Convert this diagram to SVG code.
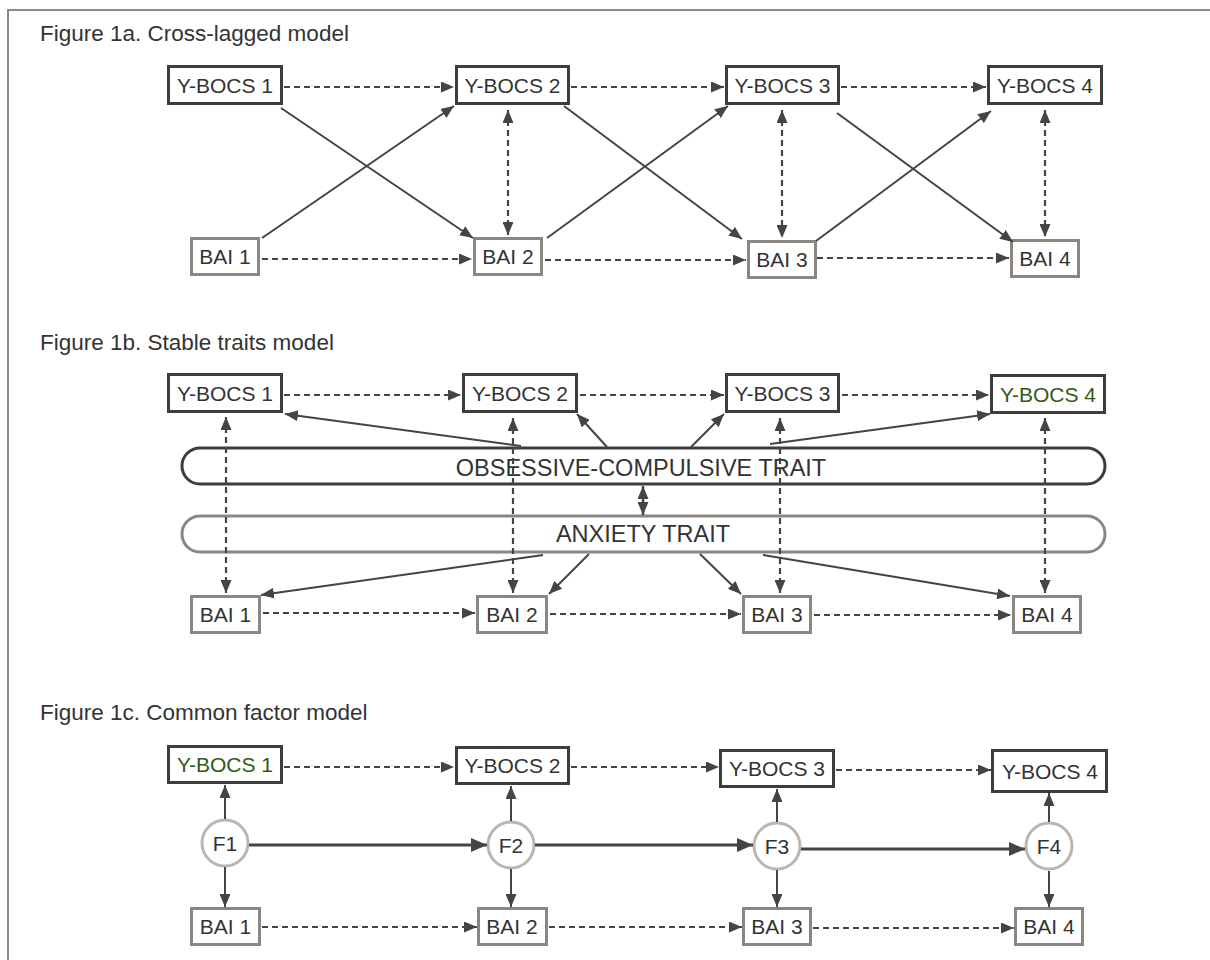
<svg xmlns="http://www.w3.org/2000/svg" width="1210" height="960" viewBox="0 0 1210 960">
<style>
.bg{fill:#ffffff}
.frame{fill:none;stroke:#8a8a8a;stroke-width:2}
.title{font-family:"Liberation Sans",Arial,sans-serif;font-size:22.5px;fill:#333333}
.lbl{font-family:"Liberation Sans",Arial,sans-serif;font-size:21px;fill:#333333;text-anchor:middle}
.green{fill:#2f5a17}
.trait{font-family:"Liberation Sans",Arial,sans-serif;font-size:23.5px;fill:#333333;text-anchor:middle}
.yb{fill:#ffffff;stroke:#3d3d3d;stroke-width:3}
.bai{fill:#ffffff;stroke:#8c8680;stroke-width:3}
.fc{fill:#ffffff;stroke:#bdb6ae;stroke-width:3}
.oc{fill:none;stroke:#3d3d3d;stroke-width:3}
.anx{fill:none;stroke:#8c8680;stroke-width:3}
.solid{fill:none;stroke:#444444;stroke-width:2;marker-end:url(#ah)}
.thick{fill:none;stroke:#444444;stroke-width:3;marker-end:url(#ahb)}
.dash{fill:none;stroke:#444444;stroke-width:2.2;stroke-dasharray:6 4;marker-end:url(#ah)}
.dash2{fill:none;stroke:#444444;stroke-width:2.2;stroke-dasharray:6 4;marker-start:url(#ah);marker-end:url(#ah)}
.dbl{fill:none;stroke:#444444;stroke-width:2.5;marker-start:url(#ah);marker-end:url(#ah)}
</style>
<defs>
<marker id="ah" markerUnits="userSpaceOnUse" viewBox="0 0 13 11" refX="13" refY="5.5" markerWidth="13" markerHeight="11" orient="auto-start-reverse">
<path d="M0,0 L13,5.5 L0,11 z" fill="#444444"/>
</marker>
<marker id="ahb" markerUnits="userSpaceOnUse" viewBox="0 0 16 14" refX="16" refY="7" markerWidth="16" markerHeight="14" orient="auto">
<path d="M0,0 L16,7 L0,14 z" fill="#444444"/>
</marker>
</defs>
<rect class="bg" x="0" y="0" width="1210" height="960"/>
<path class="frame" d="M8,960 V10 H1210"/>

<text class="title" x="40" y="41">Figure 1a. Cross-lagged model</text>
<text class="title" x="40" y="350">Figure 1b. Stable traits model</text>
<text class="title" x="40" y="720">Figure 1c. Common factor model</text>

<!-- Figure 1a nodes -->
<g id="a-ybocs1"><rect class="yb" x="168.5" y="66.5" width="113" height="37"/><text class="lbl" x="225" y="93">Y-BOCS 1</text></g>
<g id="a-ybocs2"><rect class="yb" x="456.5" y="66.5" width="112" height="37"/><text class="lbl" x="512.5" y="93">Y-BOCS 2</text></g>
<g id="a-ybocs3"><rect class="yb" x="726.5" y="66.5" width="112" height="37"/><text class="lbl" x="782.5" y="93">Y-BOCS 3</text></g>
<g id="a-ybocs4"><rect class="yb" x="988.5" y="66.5" width="113" height="37"/><text class="lbl" x="1045" y="93">Y-BOCS 4</text></g>
<g id="a-bai1"><rect class="bai" x="191.5" y="238.5" width="67" height="36"/><text class="lbl" x="225" y="264">BAI 1</text></g>
<g id="a-bai2"><rect class="bai" x="474.5" y="238.5" width="67" height="36"/><text class="lbl" x="508" y="264">BAI 2</text></g>
<g id="a-bai3"><rect class="bai" x="748.5" y="241.5" width="67" height="36"/><text class="lbl" x="782" y="267">BAI 3</text></g>
<g id="a-bai4"><rect class="bai" x="1011.5" y="240.5" width="67" height="36"/><text class="lbl" x="1045" y="266">BAI 4</text></g>

<!-- Figure 1b nodes -->
<g id="b-ybocs1"><rect class="yb" x="168.5" y="374.5" width="113" height="37"/><text class="lbl" x="225" y="401">Y-BOCS 1</text></g>
<g id="b-ybocs2"><rect class="yb" x="463.5" y="374.5" width="113" height="37"/><text class="lbl" x="520" y="401">Y-BOCS 2</text></g>
<g id="b-ybocs3"><rect class="yb" x="726.5" y="374.5" width="112" height="37"/><text class="lbl" x="782.5" y="401">Y-BOCS 3</text></g>
<g id="b-ybocs4"><rect class="yb" x="991.5" y="375.5" width="113" height="37"/><text class="lbl green" x="1048" y="402">Y-BOCS 4</text></g>
<g id="b-octrait"><rect class="oc" x="182" y="448" width="923" height="36" rx="18" ry="18"/><text class="trait" x="641" y="476">OBSESSIVE-COMPULSIVE TRAIT</text></g>
<g id="b-anxtrait"><rect class="anx" x="182" y="516" width="923" height="36" rx="18" ry="18"/><text class="trait" x="643" y="542">ANXIETY TRAIT</text></g>
<g id="b-bai1"><rect class="bai" x="191.5" y="596.5" width="68" height="36"/><text class="lbl" x="225.5" y="622">BAI 1</text></g>
<g id="b-bai2"><rect class="bai" x="477.5" y="596.5" width="69" height="36"/><text class="lbl" x="512" y="622">BAI 2</text></g>
<g id="b-bai3"><rect class="bai" x="743.5" y="596.5" width="67" height="36"/><text class="lbl" x="777" y="622">BAI 3</text></g>
<g id="b-bai4"><rect class="bai" x="1013.5" y="596.5" width="67" height="36"/><text class="lbl" x="1047" y="622">BAI 4</text></g>

<!-- Figure 1c nodes -->
<g id="c-ybocs1"><rect class="yb" x="168.5" y="746.5" width="113" height="36"/><text class="lbl green" x="225" y="772">Y-BOCS 1</text></g>
<g id="c-ybocs2"><rect class="yb" x="456.5" y="747.5" width="112" height="36"/><text class="lbl" x="512.5" y="773">Y-BOCS 2</text></g>
<g id="c-ybocs3"><rect class="yb" x="720.5" y="750.5" width="113" height="36"/><text class="lbl" x="777" y="776">Y-BOCS 3</text></g>
<g id="c-ybocs4"><rect class="yb" x="992.5" y="750.5" width="114" height="41"/><text class="lbl" x="1050" y="779">Y-BOCS 4</text></g>
<g id="c-f1"><circle class="fc" cx="225" cy="843" r="23"/><text class="lbl" x="225" y="850.5">F1</text></g>
<g id="c-f2"><circle class="fc" cx="511" cy="845" r="23"/><text class="lbl" x="511" y="852.5">F2</text></g>
<g id="c-f3"><circle class="fc" cx="777" cy="846" r="23"/><text class="lbl" x="777" y="853.5">F3</text></g>
<g id="c-f4"><circle class="fc" cx="1049" cy="846" r="23"/><text class="lbl" x="1049" y="853.5">F4</text></g>
<g id="c-bai1"><rect class="bai" x="191.5" y="908.5" width="68" height="36"/><text class="lbl" x="225.5" y="934">BAI 1</text></g>
<g id="c-bai2"><rect class="bai" x="478.5" y="908.5" width="68" height="36"/><text class="lbl" x="512" y="934">BAI 2</text></g>
<g id="c-bai3"><rect class="bai" x="743.5" y="908.5" width="67" height="36"/><text class="lbl" x="777" y="934">BAI 3</text></g>
<g id="c-bai4"><rect class="bai" x="1015.5" y="908.5" width="67" height="36"/><text class="lbl" x="1049" y="934">BAI 4</text></g>

<g id="connectors">
<!-- 1a -->
<path class="dash" d="M284,87 L454,87"/>
<path class="dash" d="M571,87 L724,87"/>
<path class="dash" d="M841,87 L986,87"/>
<path class="dash" d="M262,259 L472,259"/>
<path class="dash" d="M545,260 L746,260"/>
<path class="dash" d="M817,258 L1009,258"/>
<path class="dash2" d="M508,110 L508,235"/>
<path class="dash2" d="M782,110 L782,238"/>
<path class="dash2" d="M1045,110 L1045,237"/>
<path class="solid" d="M281,108 L473,238"/>
<path class="solid" d="M262,238 L454,106"/>
<path class="solid" d="M564,106 L742,239"/>
<path class="solid" d="M547,238 L728,106"/>
<path class="solid" d="M837,113 L1013,242"/>
<path class="solid" d="M816,241 L991,111"/>
<!-- 1b -->
<path class="dash" d="M284,395 L461,395"/>
<path class="dash" d="M580,395 L724,395"/>
<path class="dash" d="M842,395 L989,395"/>
<path class="dash" d="M263,613 L475,613"/>
<path class="dash" d="M550,614 L741,614"/>
<path class="dash" d="M814,615 L1011,615"/>
<path class="dash2" d="M226,417 L226,593"/>
<path class="dash2" d="M513,418 L513,593"/>
<path class="dash2" d="M780,418 L780,593"/>
<path class="dash2" d="M1045,418 L1045,593"/>
<path class="solid" d="M521,446 L285,414"/>
<path class="solid" d="M607,447 L577,414"/>
<path class="solid" d="M691,447 L724,414"/>
<path class="solid" d="M770,444 L990,414"/>
<path class="solid" d="M543,555 L261,595"/>
<path class="solid" d="M589,554 L549,594"/>
<path class="solid" d="M700,554 L741,594"/>
<path class="solid" d="M763,555 L1010,596"/>
<path class="dbl" d="M643,486 L643,515"/>
<!-- 1c -->
<path class="dash" d="M284,767 L454,767"/>
<path class="dash" d="M571,767 L719,767"/>
<path class="dash" d="M836,770 L991,770"/>
<path class="dash" d="M262,927 L477,927"/>
<path class="dash" d="M549,927 L742,927"/>
<path class="dash" d="M813,928 L1014,928"/>
<path class="solid" d="M225,819 L225,785"/>
<path class="solid" d="M225,867 L225,907"/>
<path class="solid" d="M511,821 L511,786"/>
<path class="solid" d="M511,869 L511,907"/>
<path class="solid" d="M777,822 L777,789"/>
<path class="solid" d="M777,870 L777,907"/>
<path class="solid" d="M1049,822 L1049,793"/>
<path class="solid" d="M1049,871 L1049,907"/>
<path class="thick" d="M249,845 L487,845"/>
<path class="thick" d="M535,845 L753,845"/>
<path class="thick" d="M801,849 L1025,849"/>
</g>
</svg>
